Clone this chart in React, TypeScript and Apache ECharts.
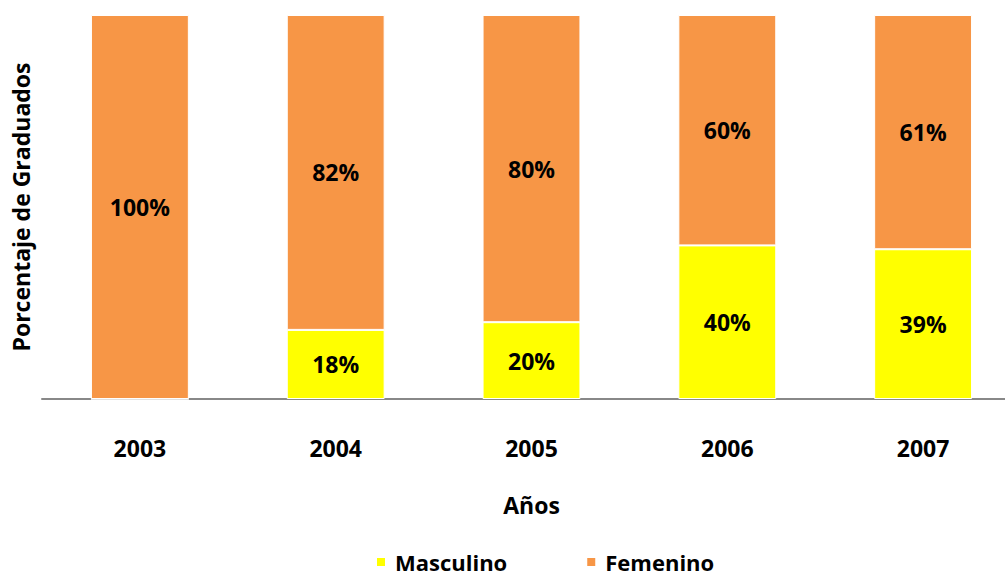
import React, { useEffect, useRef } from "react";
import * as echarts from "echarts";

const years = ["2003", "2004", "2005", "2006", "2007"];
const masculino = [0, 18, 20, 40, 39];
const femenino = [100, 82, 80, 60, 61];

const FONT = "'Open Sans', Lato, sans-serif";
const textBase = { fontFamily: FONT, fontWeight: "bold" as const, fontSize: 23, color: "#000" };

export default function App() {
  const ref = useRef<HTMLDivElement>(null);
  useEffect(() => {
    const chart = echarts.init(ref.current!, null, { renderer: "svg" });
    const label = {
      show: true,
      position: "inside",
      formatter: (p: any) => (p.value > 0 ? p.value + "%" : ""),
      ...textBase,
    };
    chart.setOption({
      animation: false,
      grid: {
        left: 42,
        top: 15,
        height: 384,
        width: 979,
        containLabel: false,
        outerBoundsMode: "none",
      },
      legend: {
        left: 375,
        top: 551,
        padding: 0,
        icon: "rect",
        itemWidth: 10,
        itemHeight: 10,
        itemGap: 78,
        textStyle: { ...textBase, fontSize: 22, lineHeight: 22, padding: [0, 0, 0, 4] },
        data: ["Masculino", "Femenino"],
      },
      xAxis: {
        type: "category",
        data: years,
        name: "Años",
        nameLocation: "middle",
        nameGap: 94,
        nameTextStyle: { ...textBase },
        axisLine: { show: true, lineStyle: { color: "#888", width: 2 } },
        axisTick: { show: false },
        axisLabel: { margin: 37, ...textBase },
      },
      yAxis: {
        type: "value",
        min: 0,
        max: 100,
        name: "Porcentaje de Graduados",
        nameLocation: "middle",
        nameGap: 10,
        nameTextStyle: { ...textBase },
        axisLine: { show: false },
        axisTick: { show: false },
        axisLabel: { show: false },
        splitLine: { show: false },
      },
      series: [
        {
          name: "Masculino",
          type: "bar",
          stack: "total",
          barWidth: "50%",
          data: masculino,
          itemStyle: { color: "#FFFF00", borderColor: "#fff", borderWidth: 1 },
          label,
        },
        {
          name: "Femenino",
          type: "bar",
          stack: "total",
          barWidth: "50%",
          data: femenino,
          itemStyle: { color: "#F79646", borderColor: "#fff", borderWidth: 1 },
          label,
        },
      ],
    });
    return () => chart.dispose();
  }, []);
  return (
    <div
      ref={ref}
      style={{ position: "fixed", left: 0, top: 0, width: 1005, height: 573, background: "#fff" }}
    />
  );
}
